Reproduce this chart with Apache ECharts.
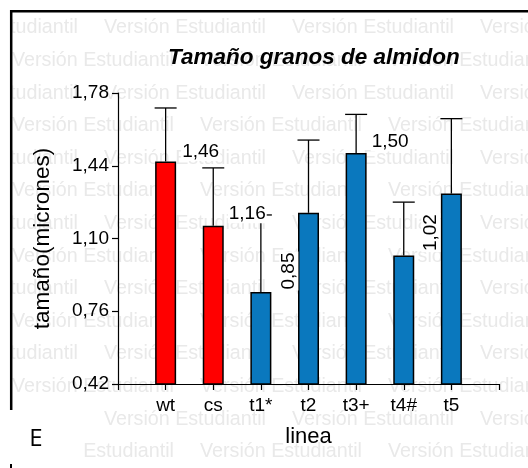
<!DOCTYPE html>
<html>
<head>
<meta charset="utf-8">
<script src="https://cdn.jsdelivr.net/npm/echarts@6/dist/echarts.min.js"></script>
<style>
  html, body { margin: 0; padding: 0; background: #fff; }
  #chart { width: 528px; height: 468px; }
</style>
</head>
<body>
<div id="chart"></div>
<script>
// Starch granule size per line: mean (bar) and upper end of the error bar
const categories = ['wt', 'cs', 't1*', 't2', 't3+', 't4#', 't5'];
const meanSize   = [1.46, 1.16, 0.85, 1.22, 1.50, 1.02, 1.31];
const upperError = [1.71, 1.43, 1.21, 1.56, 1.68, 1.27, 1.66];
const barColors  = ['#ff0000', '#ff0000', '#0a78be', '#0a78be', '#0a78be', '#0a78be', '#0a78be'];
const yTicks     = [0.42, 0.76, 1.10, 1.44, 1.78];

// Where each value label sits relative to the top of its bar (null = no label)
const labelPlacement = [
  { dx: 35, dy: -10, rot: 0 },
  { dx: 34, dy: -12, rot: 0 },
  { dx: 28, dy: -21, rot: 90 },
  null,
  { dx: 34, dy: -11, rot: 0 },
  { dx: 27, dy: -23, rot: 90 },
  null
];

const FONT = '"Liberation Sans", Arial, sans-serif';
const fmt = v => v.toFixed(2).replace('.', ',');

// axis slots: an empty slot at each end so the bars sit on the ticks
const axisCats = [''].concat(categories, ['']);
const barData = [null].concat(
  meanSize.map((v, i) => ({ value: v, itemStyle: { color: barColors[i] } })),
  [null]
);
const errData = meanSize.map((v, i) => [i + 1, v, upperError[i]]);

// repeated watermark text
const watermark = [];
const rowStep = 32.6, period = 188, phrase = 'Versión Estudiantil';
for (let r = 0; r < 14; r++) {
  const y = 28 + r * rowStep;
  const start = (r % 2 === 0) ? -84 : 12;
  for (let x = start; x < 528; x += period) {
    watermark.push({
      type: 'text', x: x, y: y, z: -10, silent: true,
      style: { text: phrase, fill: '#e9e9e9', font: '19.7px ' + FONT, verticalAlign: 'middle' }
    });
  }
}

const chart = echarts.init(document.getElementById('chart'), null, { renderer: 'canvas' });
chart.setOption({
  animation: false,
  backgroundColor: '#fff',
  title: {
    text: 'Tamaño granos de almidon',
    left: 163, top: 41,
    textStyle: { fontFamily: FONT, fontSize: 22.5, fontWeight: 'bold', fontStyle: 'italic', color: '#000' }
  },
  grid: { left: 118, right: 29, top: 93, bottom: 84 },
  xAxis: {
    type: 'category',
    data: axisCats,
    boundaryGap: false,
    name: 'linea',
    nameLocation: 'middle',
    nameGap: 42,
    nameTextStyle: { fontFamily: FONT, fontSize: 22, color: '#000' },
    axisLine: { lineStyle: { color: '#000', width: 1.2 } },
    axisTick: { length: 6, lineStyle: { color: '#000', width: 1.2 } },
    axisLabel: { fontFamily: FONT, fontSize: 19, color: '#000', margin: 12, interval: 0 },
    splitLine: { show: false }
  },
  yAxis: {
    type: 'value',
    min: yTicks[0],
    max: yTicks[yTicks.length - 1],
    interval: yTicks[1] - yTicks[0],
    name: 'tamaño(micrones)',
    nameLocation: 'middle',
    nameGap: 64,
    nameRotate: 90,
    nameTextStyle: { fontFamily: FONT, fontSize: 22.5, color: '#000' },
    axisLine: { show: true, lineStyle: { color: '#000', width: 1.2 } },
    axisTick: { show: true, length: 6, lineStyle: { color: '#000', width: 1.2 } },
    axisLabel: { fontFamily: FONT, fontSize: 19, color: '#000', margin: 9, formatter: v => fmt(v) },
    splitLine: { show: false }
  },
  series: [
    {
      type: 'bar',
      data: barData,
      barWidth: 21,
      itemStyle: { borderColor: '#000', borderWidth: 1.5 },
      z: 2
    },
    {
      // upper error whiskers with caps
      type: 'custom',
      data: errData,
      z: 3,
      renderItem: (params, api) => {
        const top = api.coord([api.value(0), api.value(2)]);
        const base = api.coord([api.value(0), api.value(1)]);
        const half = 11;
        return {
          type: 'group',
          children: [
            { type: 'line', shape: { x1: top[0], y1: base[1], x2: top[0], y2: top[1] },
              style: { stroke: '#000', lineWidth: 1.3 } },
            { type: 'line', shape: { x1: top[0] - half, y1: top[1], x2: top[0] + half, y2: top[1] },
              style: { stroke: '#000', lineWidth: 1.3 } }
          ]
        };
      }
    },
    {
      // value labels, drawn from the bar values
      type: 'custom',
      data: errData,
      z: 4,
      renderItem: (params, api) => {
        const p = labelPlacement[params.dataIndex];
        if (!p) return null;
        const v = api.value(1);
        const pt = api.coord([api.value(0), v]);
        return {
          type: 'text',
          x: pt[0] + p.dx,
          y: pt[1] + p.dy,
          rotation: p.rot * Math.PI / 180,
          style: {
            text: fmt(v), font: '19px ' + FONT, fill: '#000',
            align: 'center', verticalAlign: 'middle',
            backgroundColor: '#fff', padding: [0, 1]
          }
        };
      }
    }
  ],
  graphic: watermark.concat([
    // clear margins outside the frame
    { type: 'rect', shape: { x: 0, y: 0, width: 10, height: 468 }, style: { fill: '#fff' }, z: -5, silent: true },
    { type: 'rect', shape: { x: 0, y: 0, width: 528, height: 10 }, style: { fill: '#fff' }, z: -5, silent: true },
    { type: 'rect', shape: { x: 0, y: 403, width: 84, height: 65 }, style: { fill: '#fff' }, z: -5, silent: true },
    // frame
    { type: 'line', shape: { x1: 10, y1: 11.2, x2: 528, y2: 11.2 }, style: { stroke: '#000', lineWidth: 2.5 }, z: 10, silent: true },
    { type: 'line', shape: { x1: 11.2, y1: 10, x2: 11.2, y2: 410 }, style: { stroke: '#000', lineWidth: 2.5 }, z: 10, silent: true },
    { type: 'text', x: 36, y: 439, z: 10, silent: true,
      style: { text: 'E', font: '24px "Open Sans", sans-serif', fill: '#000', align: 'center', verticalAlign: 'middle' } },
    { type: 'rect', shape: { x: 10, y: 464, width: 2, height: 4 }, style: { fill: '#000' }, z: 10, silent: true }
  ])
});
</script>
</body>
</html>
